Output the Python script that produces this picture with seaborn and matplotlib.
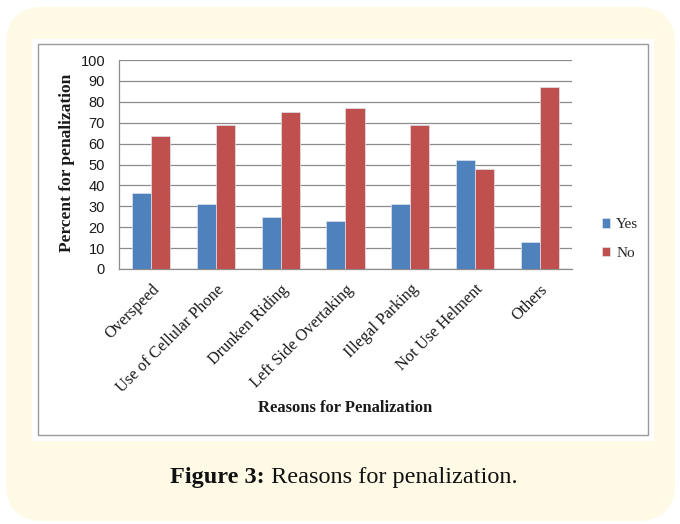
import matplotlib
matplotlib.use("Agg")
import matplotlib.pyplot as plt
from matplotlib.patches import FancyBboxPatch, Rectangle
import seaborn as sns
import pandas as pd

# Survey results: share of riders penalized, by reason
reasons = ["Overspeed", "Use of Cellular Phone", "Drunken Riding",
           "Left Side Overtaking", "Illegal Parking", "Not Use Helment", "Others"]
yes_pct = [36.5, 31, 25, 23, 31, 52, 13]
no_pct = [63.5, 69, 75, 77, 69, 48, 87]
answers = ["Yes", "No"]
y_ticks = list(range(0, 101, 10))

df = pd.DataFrame({
    "Reason": reasons * 2,
    "Answer": [answers[0]] * len(reasons) + [answers[1]] * len(reasons),
    "Percent": yes_pct + no_pct,
})

sns.set_theme(style="white")
plt.rcParams["font.family"] = ["Liberation Serif", "DejaVu Serif"]

W, H = 680, 524
fig = plt.figure(figsize=(W / 100, H / 100), dpi=100)
fig.patch.set_facecolor("white")

def fx(px):
    return px / W

def fy(py):
    return 1 - py / H

# cream rounded panel behind everything
panel = FancyBboxPatch((fx(6), fy(521)), fx(669), (521 - 7) / H,
                       boxstyle="round,pad=0,rounding_size=0.055",
                       transform=fig.transFigure, facecolor="#FEFAE6",
                       edgecolor="none", zorder=0, mutation_aspect=W / H)
fig.patches.append(panel)
# white chart card with a thin gray frame
fig.patches.append(Rectangle((fx(32), fy(441)), fx(622), (441 - 39) / H,
                             transform=fig.transFigure, facecolor="white",
                             edgecolor="none", zorder=1))
fig.patches.append(Rectangle((fx(38), fy(435)), fx(610), (435 - 44) / H,
                             transform=fig.transFigure, facecolor="none",
                             edgecolor="#9A9A9A", linewidth=1.0, zorder=2))

ax = fig.add_axes([fx(119), fy(269), fx(572 - 119), (269 - 60) / H])
ax.set_zorder(3)
ax.patch.set_alpha(0)

sns.barplot(data=df, x="Reason", y="Percent", hue="Answer", order=reasons,
            hue_order=answers, palette=["#4F81BD", "#C0504D"], width=0.59,
            saturation=1, edgecolor="#DDE3EE", linewidth=0.5, ax=ax, zorder=3)

ax.set_ylim(0, 100)
ax.set_yticks(y_ticks)
ax.set_yticklabels([str(t) for t in y_ticks], family="Liberation Sans",
                   fontsize=10.5, color="#1a1a1a")
ax.yaxis.grid(True, color="#8C8C8C", linewidth=0.9)
ax.set_axisbelow(True)
ax.tick_params(axis="y", length=0, pad=10)
ax.tick_params(axis="x", length=0, pad=9)
ax.set_xlim(-0.5, len(reasons) - 0.5)
for s in ["top", "right"]:
    ax.spines[s].set_visible(False)
for s in ["left", "bottom"]:
    ax.spines[s].set_color("#8C8C8C")
    ax.spines[s].set_linewidth(0.9)

ax.set_xticks(range(len(reasons)))
ax.set_xticklabels(reasons, rotation=45, ha="right", rotation_mode="anchor",
                   fontsize=11.8, color="#1a1a1a")
ax.set_xlabel("Reasons for Penalization", fontsize=12, fontweight="bold",
              color="#1a1a1a")
ax.set_ylabel("Percent for penalization", fontsize=12.5, fontweight="bold",
              color="#1a1a1a")
ax.xaxis.set_label_coords((345 - 119) / (572 - 119), -(408 - 269) / (269 - 60))
ax.yaxis.set_label_coords(-(119 - 67) / (572 - 119), (269 - 163) / (269 - 60))
ax.xaxis.label.set_va("center")
ax.yaxis.label.set_va("center")

leg = ax.legend(loc="center left", bbox_to_anchor=(fx(588), fy(239)),
                bbox_transform=fig.transFigure, frameon=False, fontsize=11,
                handlelength=0.55, handleheight=0.55, handletextpad=0.4,
                labelspacing=1.0)

# caption: bold lead-in followed by regular text, centred as one line
cap_y = fy(477)
t1 = fig.text(0, cap_y, "Figure 3:", ha="left", va="center", fontsize=17.5,
              fontweight="bold", color="#111111")
t2 = fig.text(0, cap_y, " Reasons for penalization.", ha="left", va="center",
              fontsize=17.5, color="#111111")
renderer = fig.canvas.get_renderer()
w1 = t1.get_window_extent(renderer).width / W
w2 = t2.get_window_extent(renderer).width / W
x0 = fx(344) - (w1 + w2) / 2
t1.set_x(x0)
t2.set_x(x0 + w1)

fig.savefig("out.png", dpi=100)
